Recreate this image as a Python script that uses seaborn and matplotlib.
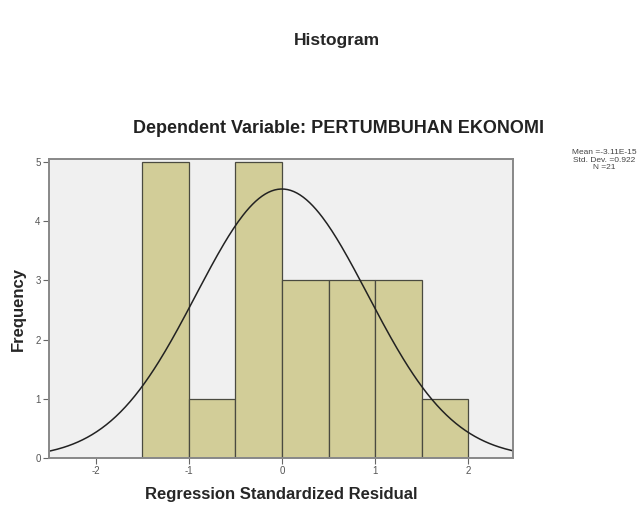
import matplotlib
matplotlib.use("Agg")
import matplotlib.pyplot as plt
import seaborn as sns
import numpy as np

# residual histogram (SPSS output), bin width 0.5
bin_edges = [-1.5, -1.0, -0.5, 0.0, 0.5, 1.0, 1.5, 2.0]
bin_counts = [5, 1, 5, 3, 3, 3, 1]
x_ticks = [-2, -1, 0, 1, 2]
y_ticks = [0, 1, 2, 3, 4, 5]
mean_val = -3.11e-15
std_val = 0.922
n_val = 21

sns.set_theme(style="white")
plt.rcParams['font.family'] = ['Liberation Sans', 'DejaVu Sans']
plt.rcParams['axes.unicode_minus'] = False

fig = plt.figure(figsize=(6.43, 5.08), dpi=100)
ax = fig.add_axes([0.0762, 0.0984, 0.7216, 0.5886])
ax.set_facecolor("#f0f0f0")

centers = [(a + b) / 2 for a, b in zip(bin_edges[:-1], bin_edges[1:])]
sns.histplot(x=centers, weights=bin_counts, bins=bin_edges, ax=ax,
             color="#d2cd98", edgecolor="#4a4a40", linewidth=0.9, alpha=1)

# fitted normal curve scaled to counts
xs = np.linspace(-2.55, 2.55, 300)
width = bin_edges[1] - bin_edges[0]
ys = n_val * width / (std_val * np.sqrt(2 * np.pi)) * np.exp(-0.5 * ((xs - mean_val) / std_val) ** 2)
ax.plot(xs, ys, color="#222222", linewidth=1.1)

ax.set_xlim(-2.5, 2.48)
ax.set_ylim(0, 5.05)
ax.set_xticks(x_ticks)
ax.set_yticks(y_ticks)
ax.tick_params(axis="both", direction="out", length=4, width=0.8, color="#666666",
               labelsize=7, labelcolor="#555555", bottom=True, left=True, pad=2)
for s in ax.spines.values():
    s.set_color("#888888")
    s.set_linewidth(1.4)

ax.set_xlabel("Regression Standardized Residual", fontsize=12, fontweight="bold", labelpad=8)
ax.set_ylabel("Frequency", fontsize=12, fontweight="bold", labelpad=7)

fig.text(0.524, 0.921, "Histogram", ha="center", va="center", fontsize=12.5, fontweight="bold")
fig.text(0.526, 0.748, "Dependent Variable: PERTUMBUHAN EKONOMI", ha="center", va="center",
         fontsize=13, fontweight="bold", color="#222222")
fig.text(0.94, 0.685,
         "Mean =%.2E\nStd. Dev. =%.3f\nN =%d" % (mean_val, std_val, n_val),
         ha="center", va="center", fontsize=6, color="#444444", linespacing=1.1)

fig.savefig("out.png", dpi=100)
